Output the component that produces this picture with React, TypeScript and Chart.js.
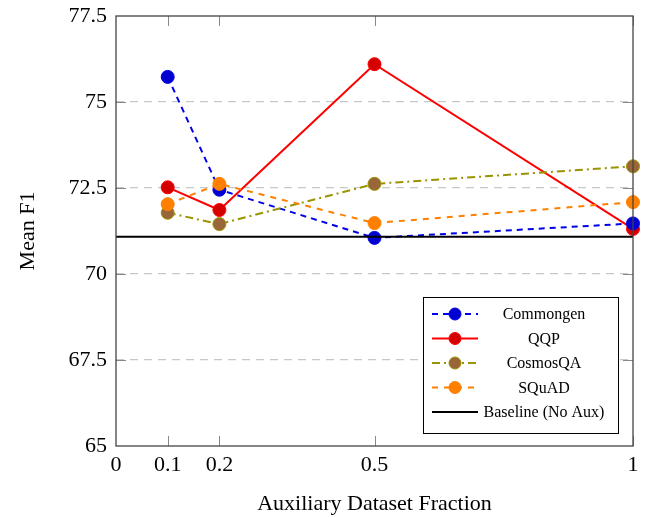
import { useEffect, useRef } from "react"
import { Chart, registerables } from "chart.js"

Chart.register(...registerables)

// Auxiliary dataset fractions on the x axis
const fractions = [0.1, 0.2, 0.5, 1]
const xTickValues = [0, 0.1, 0.2, 0.5, 1]
const yTickValues = [65, 67.5, 70, 72.5, 75, 77.5]

// Mean F1 per auxiliary dataset
const commongen = [75.73, 72.45, 71.05, 71.47]
const qqp = [72.52, 71.86, 76.1, 71.31]
const cosmosQA = [71.78, 71.45, 72.62, 73.13]
const squad = [72.03, 72.62, 71.48, 72.09]
const baseline = 71.08

const serif = "'Liberation Serif', 'Times New Roman', serif"

const toPoints = (values: number[]) => values.map((y, i) => ({ x: fractions[i], y }))

interface LegendItem {
    label: string
    color: string
    marker?: string
    dash: number[]
}

const legendItems: LegendItem[] = [
    { label: "Commongen", color: "#0000e6", marker: "#0000d0", dash: [6, 5] },
    { label: "QQP", color: "#ff0000", marker: "#d40000", dash: [] },
    { label: "CosmosQA", color: "#9a9400", marker: "#99663a", dash: [8, 4, 2, 4] },
    { label: "SQuAD", color: "#ff8000", marker: "#ff8000", dash: [6, 6] },
    { label: "Baseline (No Aux)", color: "#000000", dash: [] },
]

// frame, inner ticks and a boxed legend in the lower right
const decorations = {
    id: "decorations",
    afterDraw(chart: Chart) {
        const { ctx, chartArea } = chart
        const { left, right, top, bottom } = chartArea
        const xScale = chart.scales.x
        const yScale = chart.scales.y
        ctx.save()
        ctx.strokeStyle = "#888"
        ctx.lineWidth = 1
        ctx.setLineDash([])
        xTickValues.slice(1).forEach((v) => {
            const px = Math.round(xScale.getPixelForValue(v)) + 0.5
            ctx.beginPath()
            ctx.moveTo(px, bottom)
            ctx.lineTo(px, bottom - 10)
            ctx.moveTo(px, top)
            ctx.lineTo(px, top + 10)
            ctx.stroke()
        })
        yTickValues.slice(1, -1).forEach((v) => {
            const py = Math.round(yScale.getPixelForValue(v)) + 0.5
            ctx.beginPath()
            ctx.moveTo(left, py)
            ctx.lineTo(left + 10, py)
            ctx.moveTo(right, py)
            ctx.lineTo(right - 10, py)
            ctx.stroke()
        })
        ctx.strokeStyle = "#444"
        ctx.lineWidth = 1.3
        ctx.strokeRect(left, top, right - left, bottom - top)

        // legend
        const bx = 423, by = 297, bw = 195, bh = 136
        ctx.fillStyle = "#fff"
        ctx.fillRect(bx, by, bw, bh)
        ctx.strokeStyle = "#000"
        ctx.lineWidth = 1
        ctx.strokeRect(bx + 0.5, by + 0.5, bw, bh)
        ctx.font = `16px ${serif}`
        ctx.textAlign = "center"
        ctx.textBaseline = "middle"
        legendItems.forEach((item, i) => {
            const y = by + 17 + i * 24.5
            ctx.strokeStyle = item.color
            ctx.lineWidth = 2
            ctx.setLineDash(item.dash)
            ctx.beginPath()
            ctx.moveTo(432, y)
            ctx.lineTo(478, y)
            ctx.stroke()
            ctx.setLineDash([])
            if (item.marker) {
                ctx.beginPath()
                ctx.arc(455, y, 6, 0, Math.PI * 2)
                ctx.fillStyle = item.marker
                ctx.fill()
                ctx.strokeStyle = item.color
                ctx.lineWidth = 1
                ctx.stroke()
            }
            ctx.fillStyle = "#000"
            ctx.fillText(item.label, 544, y + 1)
        })
        ctx.restore()
    },
}

function lineDataset(label: string, values: number[], item: LegendItem) {
    return {
        label,
        data: toPoints(values),
        borderColor: item.color,
        borderWidth: 2,
        borderDash: item.dash,
        pointRadius: 6.5,
        pointBackgroundColor: item.marker,
        pointBorderColor: item.color,
        pointBorderWidth: 1,
        tension: 0,
        clip: false,
    }
}

export default function App() {
    const chartRef = useRef<HTMLCanvasElement>(null)
    const chartInstance = useRef<Chart | null>(null)

    useEffect(() => {
        document.body.style.margin = "0"
        if (!chartRef.current) return
        if (chartInstance.current) chartInstance.current.destroy()
        const ctx = chartRef.current.getContext("2d")
        if (!ctx) return

        chartInstance.current = new Chart(ctx, {
            type: "line",
            data: {
                datasets: [
                    {
                        label: "Baseline (No Aux)",
                        data: [{ x: 0, y: baseline }, { x: 1, y: baseline }],
                        borderColor: "#000",
                        borderWidth: 2,
                        pointRadius: 0,
                    },
                    lineDataset("SQuAD", squad, legendItems[3]),
                    lineDataset("CosmosQA", cosmosQA, legendItems[2]),
                    lineDataset("Commongen", commongen, legendItems[0]),
                    lineDataset("QQP", qqp, legendItems[1]),
                ] as any,
            },
            plugins: [decorations],
            options: {
                animation: false,
                responsive: false,
                devicePixelRatio: 1,
                layout: { padding: { top: 16, right: 21, left: 0, bottom: 0 } },
                plugins: {
                    legend: { display: false },
                    tooltip: { enabled: false },
                },
                scales: {
                    x: {
                        type: "linear",
                        min: 0,
                        max: 1,
                        afterBuildTicks: (scale) => {
                            scale.ticks = xTickValues.map((value) => ({ value }))
                        },
                        afterFit: (scale) => {
                            scale.height = 71
                            scale.paddingLeft = 0
                            scale.paddingRight = 0
                        },
                        grid: { display: false, drawTicks: false },
                        border: { display: false },
                        ticks: {
                            padding: 6,
                            color: "#000",
                            font: { family: serif, size: 22 },
                            maxRotation: 0,
                            callback: (v) => String(v),
                        },
                        title: {
                            display: true,
                            text: "Auxiliary Dataset Fraction",
                            color: "#000",
                            font: { family: serif, size: 22 },
                            padding: { top: 4, bottom: 0 },
                        },
                    },
                    y: {
                        min: 65,
                        max: 77.5,
                        afterBuildTicks: (scale) => {
                            scale.ticks = yTickValues.map((value) => ({ value }))
                        },
                        afterFit: (scale) => {
                            scale.width = 116
                            scale.paddingTop = 0
                            scale.paddingBottom = 0
                        },
                        grid: {
                            drawTicks: false,
                            color: (c) =>
                                c.tick && (c.tick.value === 65 || c.tick.value === 77.5)
                                    ? "rgba(0,0,0,0)"
                                    : "#c8c8c8",
                            lineWidth: 1.3,
                        },
                        border: { display: false, dash: [8, 6] },
                        ticks: {
                            padding: 9,
                            color: "#000",
                            font: { family: serif, size: 22 },
                            callback: (v) => String(v),
                        },
                        title: {
                            display: true,
                            text: "Mean F1",
                            color: "#000",
                            font: { family: serif, size: 22 },
                            padding: { top: 15, bottom: 0 },
                        },
                    },
                },
            },
        })

        return () => {
            if (chartInstance.current) {
                chartInstance.current.destroy()
                chartInstance.current = null
            }
        }
    }, [])

    return (
        <div style={{ width: 654, height: 517 }}>
            <canvas ref={chartRef} width={654} height={517}></canvas>
        </div>
    )
}
